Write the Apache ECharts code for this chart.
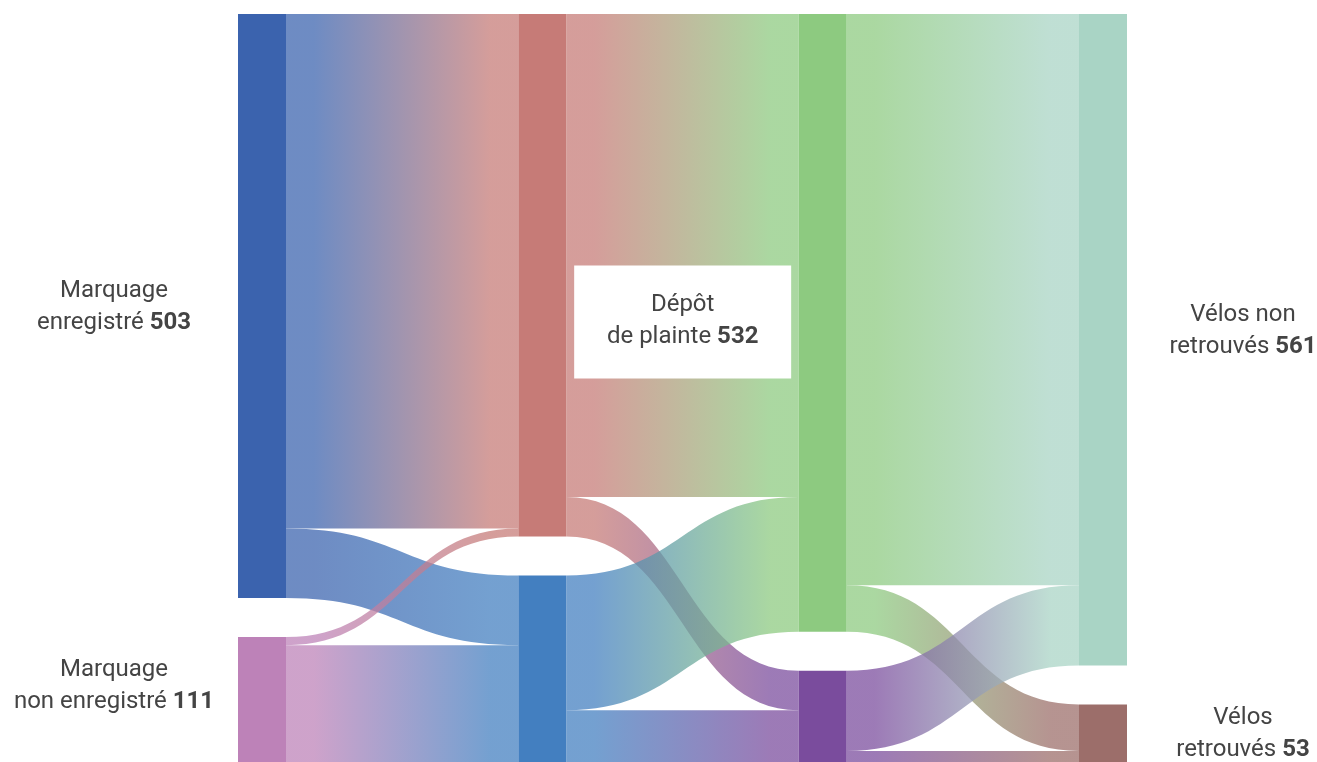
<!DOCTYPE html>
<html><head><meta charset="utf-8">
<script src="https://cdn.jsdelivr.net/npm/echarts@6/dist/echarts.min.js"></script>
<style>html,body{margin:0;padding:0;background:#fff}#chart{width:1317px;height:762px}</style>
</head><body><div id="chart"></div>
<script>
// Nodes (column order top to bottom)
const nodeNames = ['Marquage enregistré', 'Marquage non enregistré', 'Groupe A', 'Groupe B',
  'Dépôt de plainte', 'Sans dépôt de plainte', 'Vélos non retrouvés', 'Vélos retrouvés'];
const nodeLabels = ['Marquage\nenregistré', 'Marquage\nnon enregistré', '', '',
  'Dépôt\nde plainte', '', 'Vélos non\nretrouvés', 'Vélos\nretrouvés'];
// Links
const linkSources = ['Marquage enregistré', 'Marquage enregistré', 'Marquage non enregistré', 'Marquage non enregistré',
  'Groupe A', 'Groupe A', 'Groupe B', 'Groupe B',
  'Dépôt de plainte', 'Dépôt de plainte', 'Sans dépôt de plainte', 'Sans dépôt de plainte'];
const linkTargets = ['Groupe A', 'Groupe B', 'Groupe A', 'Groupe B',
  'Dépôt de plainte', 'Sans dépôt de plainte', 'Dépôt de plainte', 'Sans dépôt de plainte',
  'Vélos non retrouvés', 'Vélos retrouvés', 'Vélos non retrouvés', 'Vélos retrouvés'];
const linkValues = [443, 60, 7, 104, 416, 34, 116, 48, 492, 40, 69, 13];

// Styles (kept separate from data)
const nodeColors = ['#3b63ae', '#bd82b8', '#c67b77', '#437fc0', '#8dca80', '#7a4c9d', '#a9d4c5', '#9c6e6a'];
const labelStyles = [
  {position: 'left', distance: 0, align: 'center', offset: [-124, 1]},
  {position: 'left', distance: 0, align: 'center', offset: [-124, -16]},
  {show: false},
  {show: false},
  {position: 'left', distance: 0, align: 'center', offset: [-116, -1], backgroundColor: '#ffffff', padding: [24, 33, 25, 33], width: 151},
  {show: false},
  {position: 'right', distance: 0, align: 'center', offset: [116, -9]},
  {position: 'right', distance: 0, align: 'center', offset: [116, -1]}
];

const colorOf = name => nodeColors[nodeNames.indexOf(name)];
const nodes = nodeNames.map((n, i) => ({
  name: n,
  itemStyle: {color: nodeColors[i], borderWidth: 0},
  label: Object.assign({show: true}, labelStyles[i])
}));
const links = linkValues.map((v, i) => {
  const c0 = colorOf(linkSources[i]), c1 = colorOf(linkTargets[i]);
  return {
    source: linkSources[i], target: linkTargets[i], value: v,
    lineStyle: {
      color: new echarts.graphic.LinearGradient(0, 0, 1, 0, [
        {offset: 0, color: c0}, {offset: 0.12, color: c0},
        {offset: 0.88, color: c1}, {offset: 1, color: c1}
      ])
    }
  };
});

const chart = echarts.init(document.getElementById('chart'), null, {renderer: 'canvas'});
chart.setOption({
  animation: false,
  backgroundColor: '#ffffff',
  series: [{
    type: 'sankey',
    left: 238, top: 14, width: 889, height: 752,
    nodeWidth: 48, nodeGap: 39,
    layoutIterations: 0,
    draggable: false,
    emphasis: {disabled: true},
    itemStyle: {borderWidth: 0},
    lineStyle: {opacity: 0.74, curveness: 0.5},
    label: {
      fontFamily: 'Roboto', fontSize: 24, color: '#444444', lineHeight: 32,
      formatter: p => nodeLabels[p.dataIndex] + ' {b|' + p.value + '}',
      rich: {b: {fontFamily: 'Roboto', fontSize: 24, fontWeight: 'bold', color: '#444444', lineHeight: 32}}
    },
    data: nodes,
    links: links
  }]
});
</script></body></html>
